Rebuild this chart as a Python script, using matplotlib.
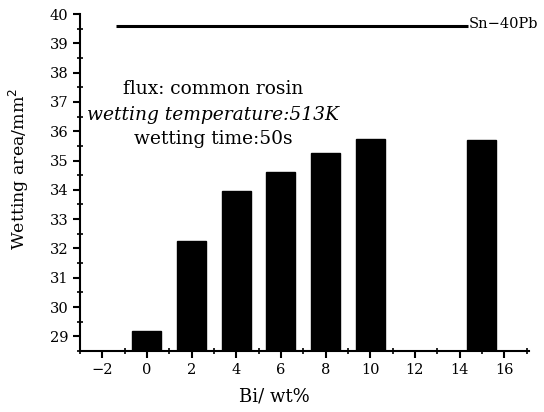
import matplotlib
matplotlib.use("Agg")
import matplotlib.pyplot as plt
from matplotlib.ticker import MultipleLocator

# Wetting area of Sn-Bi solders versus Bi content
bi_content = [0, 2, 4, 6, 8, 10, 15]
wetting_area = [29.2, 32.25, 33.97, 34.6, 35.25, 35.73, 35.7]

# Reference level for the Sn-40Pb solder
ref_label = "Sn\u221240Pb"
ref_area = 39.6
ref_span = [-1.4, 14.4]

x_ticks = [-2, 0, 2, 4, 6, 8, 10, 12, 14, 16]
y_ticks = list(range(29, 41))

plt.rcParams["font.family"] = ["DejaVu Serif"]

fig = plt.figure(figsize=(5.44, 4.12), dpi=100)
ax = fig.add_axes([0.147, 0.148, 0.825, 0.818])

ax.bar(bi_content, [h - 28.5 for h in wetting_area], bottom=28.5,
       width=1.3, color="black", edgecolor="black")

ax.plot(ref_span, [ref_area, ref_area], color="black", lw=2.2,
        solid_capstyle="butt")
ax.text(ref_span[1], ref_area + 0.05, ref_label, fontsize=10.5,
        ha="left", va="center")

ax.set_xlim(-3, 17.1)
ax.set_ylim(28.5, 40)
ax.set_xticks(x_ticks)
ax.set_yticks(y_ticks)
ax.xaxis.set_minor_locator(MultipleLocator(1))
ax.yaxis.set_minor_locator(MultipleLocator(0.5))

for side in ("top", "right"):
    ax.spines[side].set_visible(False)
for side in ("left", "bottom"):
    ax.spines[side].set_linewidth(1.5)

ax.tick_params(which="major", direction="out", length=5, width=1.5,
               labelsize=10.5)
ax.tick_params(which="minor", direction="inout", length=5, width=1.2)

ax.set_xlabel("Bi/ wt%", fontsize=13)
ax.xaxis.set_label_coords(0.434, -0.107)
ax.set_ylabel("Wetting area/mm$^2$", fontsize=12.5)
ax.yaxis.set_label_coords(-0.11, 0.54)

ax.text(2.95, 37.45, "flux: common rosin", fontsize=13.4, ha="center",
        va="center")
ax.text(2.95, 36.55, "wetting temperature:513K", fontsize=13.4,
        ha="center", va="center", style="italic")
ax.text(2.95, 35.75, "wetting time:50s", fontsize=13.4, ha="center",
        va="center")

fig.savefig("out.png", dpi=100)
